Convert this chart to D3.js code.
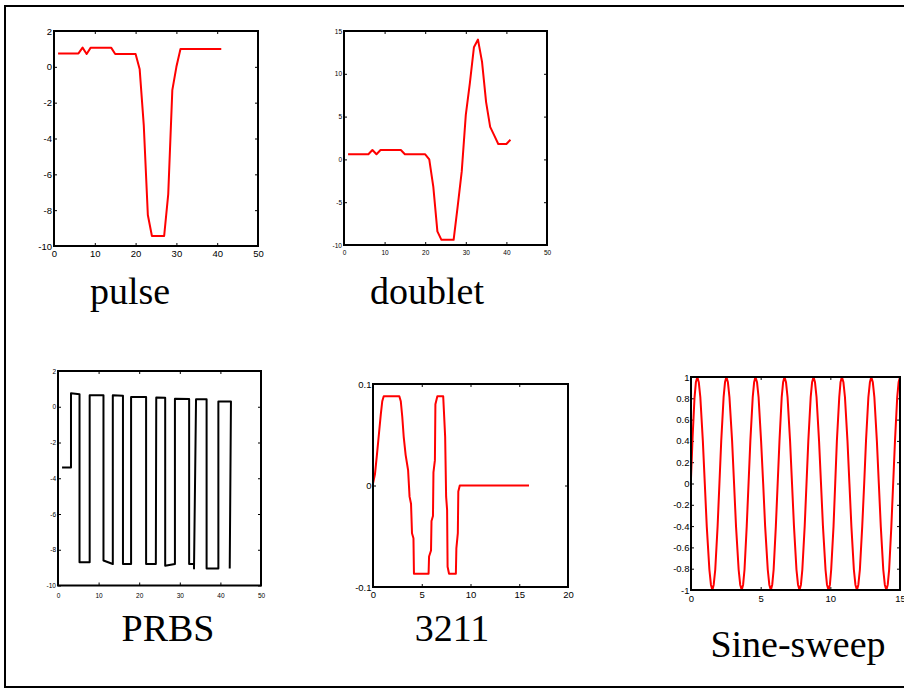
<!DOCTYPE html>
<html>
<head>
<meta charset="utf-8">
<script src="https://cdnjs.cloudflare.com/ajax/libs/d3/7.8.5/d3.min.js"></script>
<style>
  body { margin: 0; background: #fff; }
  .tick text { font-family: "Liberation Sans", Arial, sans-serif; fill: #000; }
  .tick line { stroke: #000; stroke-width: 1; }
</style>
</head>
<body>
<svg id="chart" width="904" height="689"></svg>
<script>
// input signal names
var names = ["pulse", "doublet", "PRBS", "3211", "Sine-sweep"];

// pulse
var pulseT = [1, 6, 7, 8, 9, 14, 15, 20, 21, 22, 23, 24, 27, 28, 29, 30, 31, 41];
var pulseU = [0.75, 0.75, 1.07, 0.72, 1.07, 1.07, 0.72, 0.72, -0.14, -3.25, -8.27, -9.44, -9.44, -7.1, -1.3, 0, 1.0, 1.0];
var pulseXTicks = [0, 10, 20, 30, 40, 50];
var pulseYTicks = [-10, -8, -6, -4, -2, 0, 2];

// doublet
var doubletT = [1, 6, 7, 8, 9, 14, 15, 20, 21, 22, 23, 24, 27, 28, 29, 30, 31, 32, 33, 34, 35, 36, 37, 38, 40, 41];
var doubletU = [0.6, 0.6, 1.1, 0.6, 1.1, 1.1, 0.6, 0.6, 0, -3.2, -8.4, -9.4, -9.4, -5.5, -1.4, 5.2, 8.9, 13.1, 14.0, 11.4, 6.7, 3.8, 2.8, 1.8, 1.8, 2.3];
var doubletXTicks = [0, 10, 20, 30, 40, 50];
var doubletYTicks = [-10, -5, 0, 5, 10, 15];

// PRBS
var prbsT = [1, 3.2, 3.2, 5.3, 5.3, 7.8, 7.8, 11.2, 11.2, 13.5,
             13.5, 16.0, 16.0, 18.0, 18.0, 21.7, 21.7, 24.1, 24.2, 26.4,
             26.4, 28.8, 28.8, 32.3, 32.3, 33.5, 33.5, 34.0, 36.6, 36.6,
             39.5, 39.5, 42.6, 42.3];
var prbsU = [-3.4, -3.4, 0.75, 0.7, -8.7, -8.7, 0.65, 0.65, -8.6, -8.8,
             0.65, 0.62, -8.8, -8.8, 0.55, 0.55, -8.8, -8.8, 0.52, 0.5,
             -8.9, -8.8, 0.45, 0.43, -8.8, -8.8, -9.05, 0.42, 0.42, -9.05,
             -9.05, 0.3, 0.3, -9.05];
var prbsXTicks = [0, 10, 20, 30, 40, 50];
var prbsYTicks = [-10, -8, -6, -4, -2, 0, 2];

// 3211
var s3211T = [0, 0.2, 0.4, 0.6, 0.8, 0.95, 1.1, 2.7, 2.85, 3.0,
              3.15, 3.35, 3.6, 3.75, 3.9, 4.0, 4.15, 4.2, 5.7, 5.75,
              5.95, 6.0, 6.15, 6.2, 6.35, 6.4, 6.6, 7.2, 7.4, 7.5,
              7.6, 7.65, 7.8, 8.5, 8.55, 8.7, 8.75, 8.9, 16.0];
var s3211U = [0.002, 0.011, 0.03, 0.05, 0.07, 0.083, 0.088, 0.088, 0.083, 0.068,
              0.048, 0.03, 0.015, -0.011, -0.018, -0.047, -0.052, -0.087, -0.087, -0.07,
              -0.064, -0.035, -0.03, 0.013, 0.025, 0.08, 0.088, 0.088, 0.048, -0.011,
              -0.024, -0.08, -0.087, -0.087, -0.062, -0.047, -0.006, 0, 0];
var s3211XTicks = [0, 5, 10, 15, 20];
var s3211YTicks = [-0.1, 0, 0.1];

// sine-sweep (one half cycle per line)
var sineT = [0, 0.12, 0.25, 0.35,
             0.455, 0.56, 0.67, 0.85, 0.99, 1.13, 1.32, 1.43,
             1.534, 1.63, 1.74, 1.91, 2.04, 2.17, 2.34, 2.44,
             2.54, 2.65, 2.76, 2.95, 3.09, 3.23, 3.42, 3.53,
             3.64, 3.74, 3.84, 4.0, 4.13, 4.26, 4.43, 4.53,
             4.625, 4.74, 4.85, 5.03, 5.18, 5.32, 5.51, 5.62,
             5.73, 5.83, 5.93, 6.09, 6.22, 6.35, 6.51, 6.61,
             6.71, 6.82, 6.93, 7.11, 7.25, 7.39, 7.57, 7.68,
             7.79, 7.89, 7.99, 8.16, 8.29, 8.42, 8.59, 8.69,
             8.795, 8.90, 9.01, 9.19, 9.33, 9.47, 9.655, 9.76,
             9.87, 9.97, 10.06, 10.23, 10.35, 10.47, 10.64, 10.73,
             10.83, 10.94, 11.05, 11.23, 11.37, 11.51, 11.69, 11.80,
             11.91, 12.01, 12.12, 12.29, 12.43, 12.56, 12.73, 12.84,
             12.94, 13.05, 13.16, 13.34, 13.48, 13.62, 13.80, 13.91,
             14.02, 14.12, 14.22, 14.38, 14.51, 14.64, 14.80, 14.90,
             15.0];
var sineU = [0.05, 0.45, 0.8, 0.95,
             1, 0.95, 0.81, 0.4, 0, -0.4, -0.81, -0.95,
             -1, -0.95, -0.81, -0.4, 0, 0.4, 0.81, 0.95,
             1, 0.95, 0.81, 0.4, 0, -0.4, -0.81, -0.95,
             -1, -0.95, -0.81, -0.4, 0, 0.4, 0.81, 0.95,
             1, 0.95, 0.81, 0.4, 0, -0.4, -0.81, -0.95,
             -1, -0.95, -0.81, -0.4, 0, 0.4, 0.81, 0.95,
             1, 0.95, 0.81, 0.4, 0, -0.4, -0.81, -0.95,
             -1, -0.95, -0.81, -0.4, 0, 0.4, 0.81, 0.95,
             1, 0.95, 0.81, 0.4, 0, -0.4, -0.81, -0.95,
             -1, -0.95, -0.81, -0.4, 0, 0.4, 0.81, 0.95,
             1, 0.95, 0.81, 0.4, 0, -0.4, -0.81, -0.95,
             -1, -0.95, -0.81, -0.4, 0, 0.4, 0.81, 0.95,
             1, 0.95, 0.81, 0.4, 0, -0.4, -0.81, -0.95,
             -1, -0.95, -0.81, -0.4, 0, 0.4, 0.81, 0.95,
             1];
var sineXTicks = [0, 5, 10, 15];
var sineYTicks = [-1, -0.8, -0.6, -0.4, -0.2, 0, 0.2, 0.4, 0.6, 0.8, 1];

var svg = d3.select("#chart");

// outer frame (right edge runs off the page)
svg.append("rect")
  .attr("x", 5).attr("y", 6)
  .attr("width", 940).attr("height", 681)
  .attr("fill", "none")
  .attr("stroke", "#000")
  .attr("stroke-width", 2);

var panels = [
  {t: pulseT, u: pulseU, xt: pulseXTicks, yt: pulseYTicks, color: "#ff0000",
   box: [54, 31, 258, 246], font: 9.5, xpad: 4, ypad: 2, title: [130, 304]},
  {t: doubletT, u: doubletU, xt: doubletXTicks, yt: doubletYTicks, color: "#ff0000",
   box: [344, 31, 547, 245], font: 6.5, xpad: 5, ypad: 2, title: [427, 304]},
  {t: prbsT, u: prbsU, xt: prbsXTicks, yt: prbsYTicks, color: "#000000",
   box: [58, 371, 261, 585.5], font: 6.5, xpad: 8, ypad: 2, title: [168, 641]},
  {t: s3211T, u: s3211U, xt: s3211XTicks, yt: s3211YTicks, color: "#ff0000",
   box: [373, 384, 568, 587], font: 9.5, xpad: 4.5, ypad: 1.5, title: [452, 641]},
  {t: sineT, u: sineU, xt: sineXTicks, yt: sineYTicks, color: "#ff0000",
   box: [691, 377, 900, 590], font: 9.5, xpad: 5, ypad: 1.5, title: [798, 657]}
];

panels.forEach(function(p, i) {
  var b = p.box;
  var x = d3.scaleLinear()
    .domain([p.xt[0], p.xt[p.xt.length - 1]])
    .range([b[0], b[2]]);
  var y = d3.scaleLinear()
    .domain([p.yt[0], p.yt[p.yt.length - 1]])
    .range([b[3], b[1]]);
  var fmt = function(d) { return String(d); };

  var g = svg.append("g").attr("class", "panel");

  var gx = g.append("g")
    .attr("transform", "translate(0," + b[3] + ")")
    .call(d3.axisBottom(x).tickValues(p.xt).tickFormat(fmt)
      .tickSizeInner(-3).tickSizeOuter(0).tickPadding(p.xpad));
  var gy = g.append("g")
    .attr("transform", "translate(" + b[0] + ",0)")
    .call(d3.axisLeft(y).tickValues(p.yt).tickFormat(fmt)
      .tickSizeInner(-3).tickSizeOuter(0).tickPadding(p.ypad));
  g.append("g")
    .attr("transform", "translate(0," + b[1] + ")")
    .call(d3.axisTop(x).tickValues(p.xt).tickFormat("")
      .tickSizeInner(-3).tickSizeOuter(0));
  g.append("g")
    .attr("transform", "translate(" + b[2] + ",0)")
    .call(d3.axisRight(y).tickValues(p.yt).tickFormat("")
      .tickSizeInner(-3).tickSizeOuter(0));

  g.selectAll(".domain").remove();
  g.selectAll(".tick text").attr("font-size", p.font);

  // signal
  var pts = p.t.map(function(t, k) { return [t, p.u[k]]; });
  g.append("path")
    .datum(pts)
    .attr("fill", "none")
    .attr("stroke", p.color)
    .attr("stroke-width", 2)
    .attr("stroke-linejoin", "round")
    .attr("d", d3.line().x(function(d) { return x(d[0]); }).y(function(d) { return y(d[1]); }));

  // frame
  g.append("rect")
    .attr("x", b[0]).attr("y", b[1])
    .attr("width", b[2] - b[0]).attr("height", b[3] - b[1])
    .attr("fill", "none")
    .attr("stroke", "#000")
    .attr("stroke-width", 2);

  // name under the plot
  svg.append("text")
    .attr("x", p.title[0])
    .attr("y", p.title[1])
    .attr("text-anchor", "middle")
    .attr("font-family", "'Liberation Serif', 'Times New Roman', serif")
    .attr("font-size", 38)
    .text(names[i]);
});
</script>
</body>
</html>
